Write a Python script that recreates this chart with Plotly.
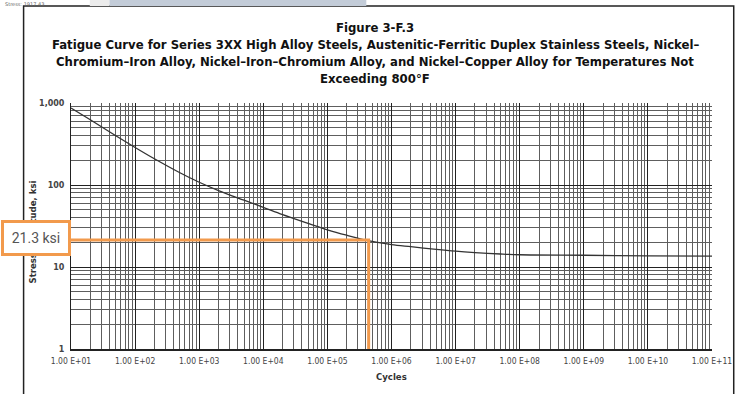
import plotly.graph_objects as go

# ---- data ----
cycles = [1e1, 2e1, 5e1, 1e2, 2e2, 5e2, 1e3, 2e3, 5e3, 1e4, 2e4, 5e4,
          1e5, 2e5, 5e5, 1e6, 2e6, 5e6, 1e7, 2e7, 5e7, 1e8, 1e9, 1e10, 1e11]
stress_ksi = [870, 624, 399, 287, 209, 141, 108, 85.6, 65.3, 53.4, 43.5, 34.1,
              28.4, 24.4, 20.5, 18.8, 17.7, 16.4, 15.6, 15.0, 14.4, 14.1, 13.9, 13.7, 13.6]
marker_stress = 21.3
marker_cycles = 4.4e5
x_tick_vals = [10 ** k for k in range(1, 12)]
x_tick_text = ["1.00 E+%02d" % k for k in range(1, 12)]
y_tick_vals = [1, 10, 100, 1000]
y_tick_text = ["1", "10", "100", "1,000"]

W, H = 744, 394
L, R, T, B = 71, 720, 103, 349
ORANGE = "#F29A4C"

def px(xp):
    return (xp - L) / (R - L)

def py(yp):
    return (B - yp) / (B - T)

x_minor = [m * 10 ** k for k in range(1, 11) for m in range(2, 10)]
y_minor = [m * 10 ** k for k in range(0, 3) for m in range(2, 10)]

fig = go.Figure()
fig.add_trace(go.Scatter(x=cycles, y=stress_ksi, mode="lines",
                         line=dict(color="#333333", width=1.3, shape="spline"),
                         hoverinfo="skip", showlegend=False))
fig.add_trace(go.Scatter(x=[cycles[0], marker_cycles, marker_cycles],
                         y=[marker_stress, marker_stress, y_tick_vals[0]],
                         mode="lines", line=dict(color=ORANGE, width=3),
                         hoverinfo="skip", showlegend=False, cliponaxis=False))

tickfont = dict(family="Liberation Sans Narrow, DejaVu Sans Condensed, sans-serif",
                size=8.5, color="#444444")
fig.update_xaxes(type="log", range=[1, 11], tickvals=x_tick_vals, ticktext=x_tick_text,
                 showgrid=True, gridcolor="#222222", gridwidth=1,
                 minor=dict(tickvals=x_minor, showgrid=True, gridcolor="#5e5e5e", gridwidth=1),
                 showline=True, linecolor="#222222", linewidth=1.5, ticks="",
                 zeroline=False, tickfont=tickfont, ticklabelstandoff=3)
fig.update_yaxes(type="log", range=[0, 3], tickvals=y_tick_vals, ticktext=y_tick_text,
                 showgrid=True, gridcolor="#222222", gridwidth=1,
                 minor=dict(tickvals=y_minor, showgrid=True, gridcolor="#5e5e5e", gridwidth=1),
                 showline=True, linecolor="#222222", linewidth=1, ticks="",
                 zeroline=False, tickfont=dict(family="DejaVu Sans, sans-serif",
                                               size=8, color="#444444", weight="bold"),
                 ticklabelstandoff=4)

shapes = [
    # page frame
    dict(type="rect", xref="paper", yref="paper", x0=px(23), x1=px(742), y0=py(400), y1=py(6),
         line=dict(color="#222222", width=1.5), fillcolor="rgba(0,0,0,0)", layer="below"),
    # top toolbar pieces
    dict(type="rect", xref="paper", yref="paper", x0=px(90), x1=px(110), y0=py(6), y1=py(0),
         line=dict(width=0), fillcolor="#ececec", layer="below"),
    dict(type="rect", xref="paper", yref="paper", x0=px(110), x1=px(370), y0=py(6), y1=py(0),
         line=dict(width=0), fillcolor="#c3ccd8", layer="below"),
]

title_font = dict(family="DejaVu Sans Condensed, Liberation Sans Narrow, sans-serif",
                  size=13, color="#111111", weight="bold")
title_lines = [
    "Figure 3-F.3",
    "Fatigue Curve for Series 3XX High Alloy Steels, Austenitic-Ferritic Duplex Stainless Steels, Nickel\u2013",
    "Chromium\u2013Iron Alloy, Nickel\u2013Iron\u2013Chromium Alloy, and Nickel\u2013Copper Alloy for Temperatures Not",
    "Exceeding 800\u00b0F",
]
title_y = [28, 45, 62, 79]
annotations = []
for txt, yy in zip(title_lines, title_y):
    annotations.append(dict(text=txt, xref="paper", yref="paper", x=px(379), y=py(yy),
                            xanchor="center", yanchor="middle", showarrow=False,
                            font=title_font))
annotations += [
    dict(text="Stress: 1917.43", xref="paper", yref="paper", x=px(2), y=py(4),
         xanchor="left", yanchor="middle", showarrow=False,
         font=dict(family="DejaVu Sans, sans-serif", size=5, color="#666666")),
    dict(text="Cycles", xref="paper", yref="paper", x=px(396), y=py(376),
         xanchor="center", yanchor="middle", showarrow=False,
         font=dict(family="DejaVu Sans Condensed, Liberation Sans Narrow, sans-serif",
                   size=9.5, color="#333333", weight="bold")),
    dict(text="Stress Amplitude, ksi", xref="paper", yref="paper", x=px(32), y=py(232),
         xanchor="center", yanchor="middle", showarrow=False, textangle=-90,
         font=dict(family="DejaVu Sans Condensed, Liberation Sans Narrow, sans-serif",
                   size=9.5, color="#333333", weight="bold")),
    dict(text="21.3 ksi", xref="paper", yref="paper", x=px(35.5), y=py(238),
         xanchor="center", yanchor="middle", showarrow=False,
         font=dict(family="Roboto, sans-serif", size=14, color="#555555"),
         bgcolor="white", bordercolor=ORANGE, borderwidth=3, borderpad=0,
         width=64, height=30),
]

fig.update_layout(width=W, height=H, margin=dict(l=L, r=W - R, t=T, b=H - B),
                  paper_bgcolor="white", plot_bgcolor="white",
                  shapes=shapes, annotations=annotations, showlegend=False)
fig.write_html("out.html", config={"displayModeBar": False},
               post_script="document.body.style.margin='0';document.body.style.padding='0';")
